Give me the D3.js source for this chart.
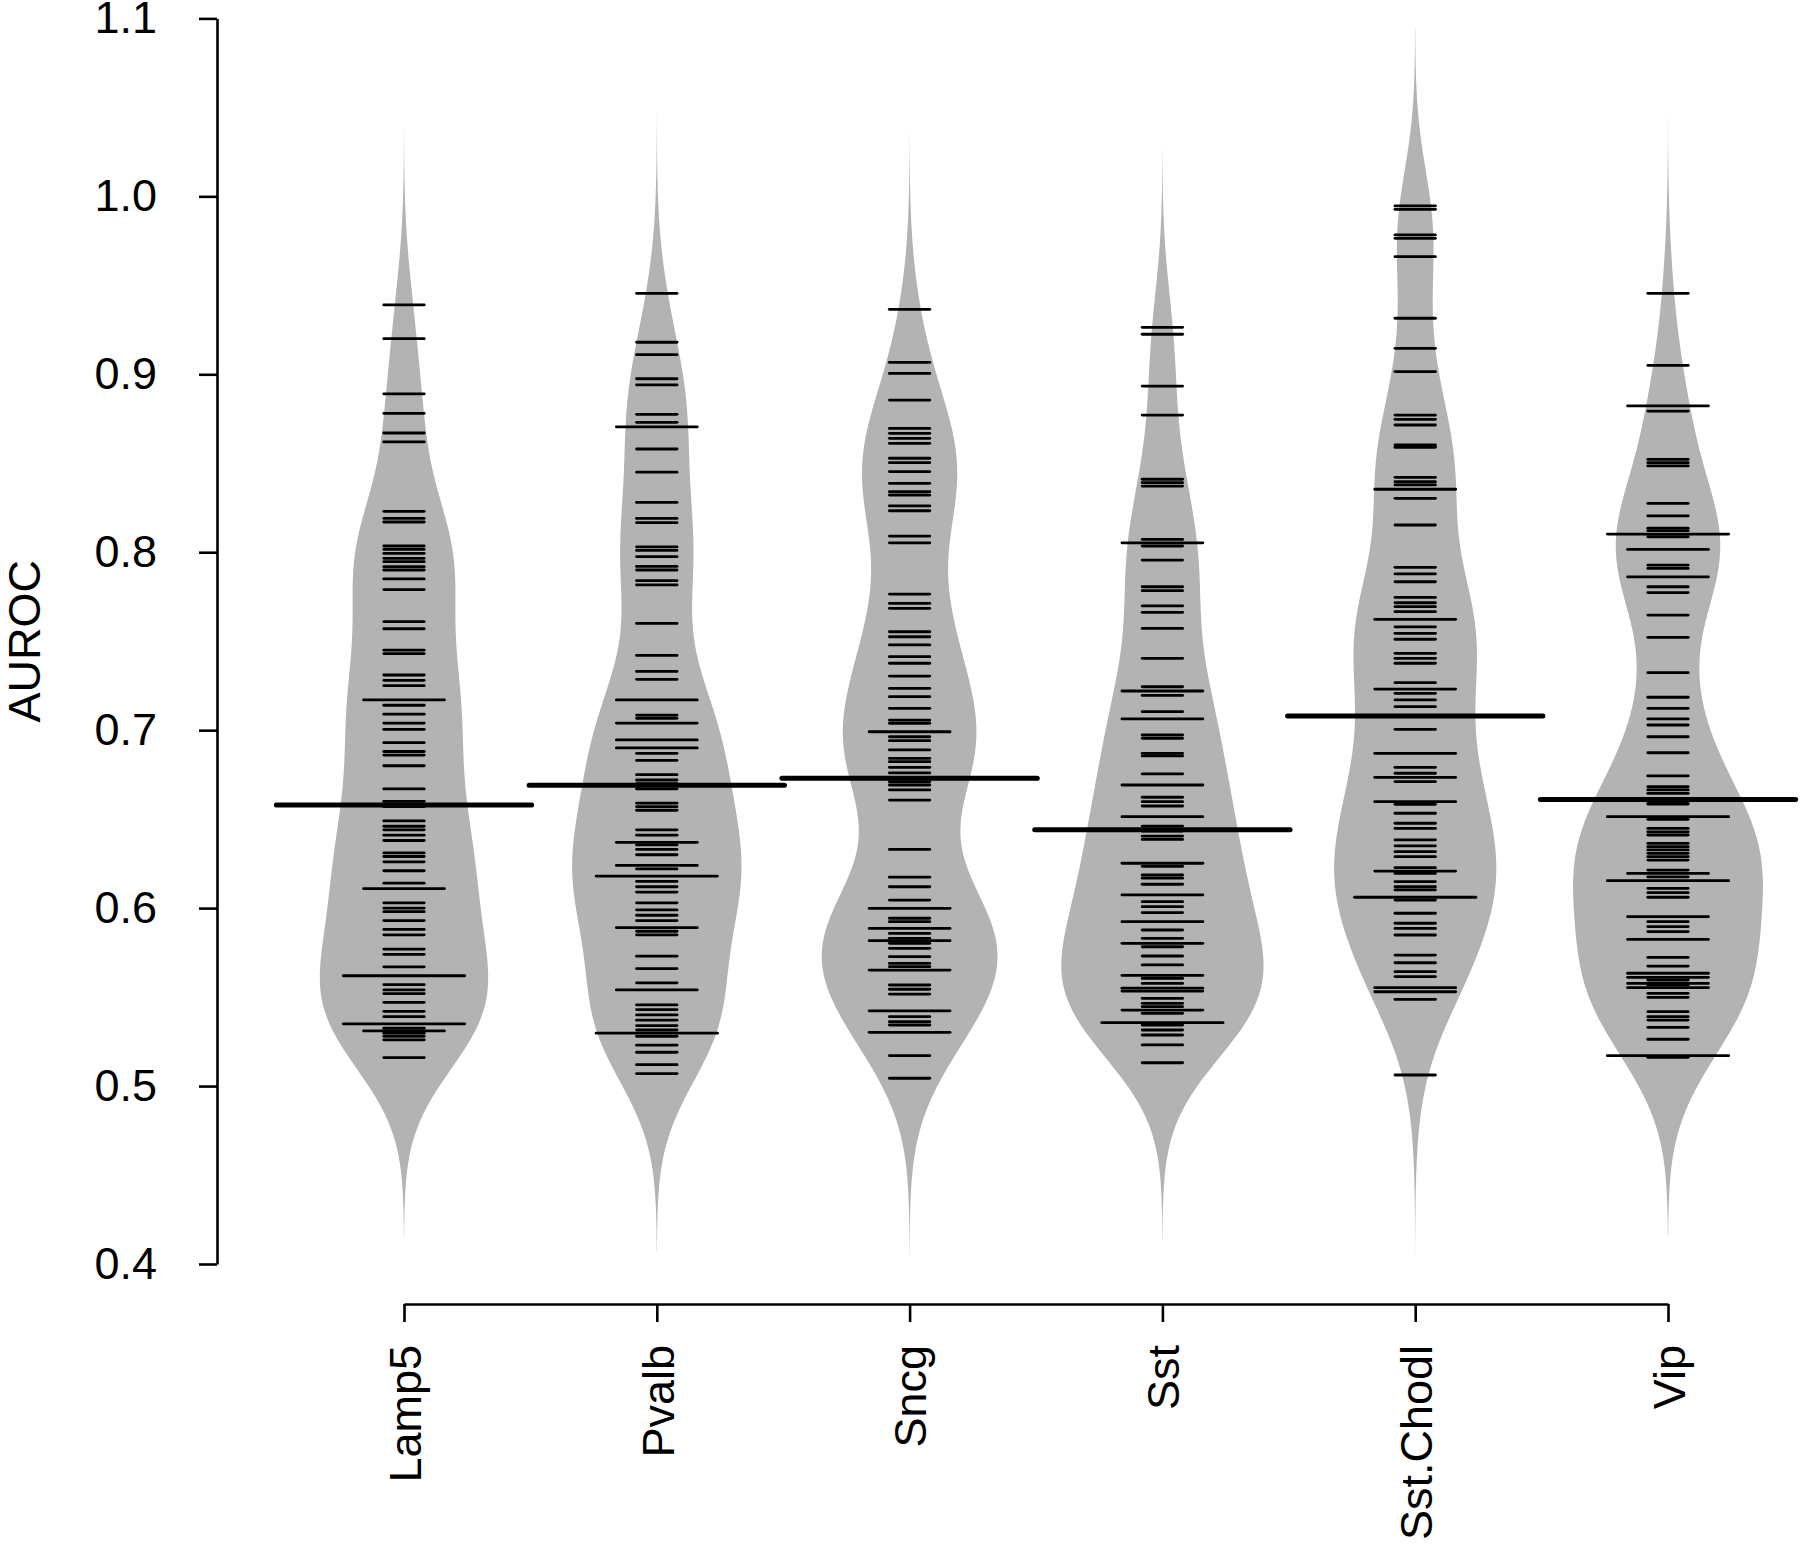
<!DOCTYPE html>
<html>
<head>
<meta charset="utf-8">
<script src="https://cdn.jsdelivr.net/npm/d3@7"></script>
<style>
  html, body { margin: 0; padding: 0; background: #fff; }
  svg { display: block; }
  text { font-family: "Liberation Sans", Arial, sans-serif; }
</style>
</head>
<body>
<svg id="chart" width="1800" height="1567"></svg>
<script>
// ---------- data ----------
const categories = ["Lamp5", "Pvalb", "Sncg", "Sst", "Sst.Chodl", "Vip"];

const lamp5 = [0.939, 0.920, 0.889, 0.878, 0.867, 0.862, 0.823, 0.819, 0.817, 0.8035, 0.8016, 0.7994, 0.7966, 0.7947, 0.7919, 0.790, 0.785, 0.779, 0.761, 0.757, 0.745, 0.743, 0.731, 0.728, 0.725, 0.717, 0.717, 0.714, 0.709, 0.704, 0.7005, 0.693, 0.688, 0.686, 0.680, 0.667, 0.660, 0.657, 0.649, 0.646, 0.644, 0.641, 0.638, 0.631, 0.629, 0.626, 0.621, 0.614, 0.611, 0.611, 0.603, 0.600, 0.598, 0.593, 0.588, 0.585, 0.577, 0.574, 0.567, 0.562, 0.562, 0.562, 0.557, 0.554, 0.552, 0.547, 0.542, 0.539, 0.535, 0.535, 0.535, 0.5325, 0.531, 0.531, 0.5297, 0.528, 0.526, 0.516];

const pvalb = [0.9455, 0.918, 0.911, 0.8975, 0.894, 0.8775, 0.873, 0.8705, 0.8705, 0.858, 0.845, 0.828, 0.819, 0.8166, 0.803, 0.801, 0.7975, 0.792, 0.790, 0.784, 0.7816, 0.760, 0.742, 0.733, 0.7286, 0.717, 0.717, 0.7085, 0.7067, 0.704, 0.704, 0.6945, 0.6945, 0.690, 0.690, 0.687, 0.683, 0.675, 0.672, 0.670, 0.667, 0.659, 0.657, 0.655, 0.644, 0.641, 0.637, 0.637, 0.6355, 0.633, 0.630, 0.624, 0.624, 0.622, 0.618, 0.618, 0.618, 0.615, 0.612, 0.609, 0.603, 0.599, 0.596, 0.593, 0.589, 0.589, 0.587, 0.585, 0.573, 0.566, 0.558, 0.554, 0.554, 0.5456, 0.543, 0.540, 0.537, 0.534, 0.5315, 0.5297, 0.5297, 0.5297, 0.528, 0.523, 0.519, 0.512, 0.507];

const sncg = [0.9365, 0.9067, 0.9005, 0.8855, 0.8696, 0.8668, 0.864, 0.8612, 0.8528, 0.8503, 0.8453, 0.8387, 0.834, 0.8321, 0.826, 0.8233, 0.8091, 0.8053, 0.7765, 0.7713, 0.7685, 0.7553, 0.7525, 0.7479, 0.7413, 0.7376, 0.7304, 0.7235, 0.7188, 0.7123, 0.7057, 0.7039, 0.6991, 0.6991, 0.6963, 0.6941, 0.6889, 0.6842, 0.6823, 0.6791, 0.676, 0.671, 0.6692, 0.6664, 0.6607, 0.633, 0.6174, 0.612, 0.6045, 0.5999, 0.5999, 0.5943, 0.5924, 0.5886, 0.5886, 0.5858, 0.583, 0.5817, 0.5817, 0.5802, 0.5774, 0.5727, 0.5689, 0.5671, 0.5652, 0.5652, 0.5568, 0.5544, 0.5517, 0.5423, 0.5423, 0.539, 0.5362, 0.5343, 0.5302, 0.5302, 0.5171, 0.5044];

const sst = [0.9264, 0.9225, 0.8934, 0.8771, 0.841, 0.8391, 0.8372, 0.8072, 0.8053, 0.8053, 0.8035, 0.7956, 0.7806, 0.7784, 0.7698, 0.7662, 0.7572, 0.7404, 0.7244, 0.722, 0.722, 0.7195, 0.7104, 0.7063, 0.7063, 0.6973, 0.6954, 0.687, 0.6855, 0.6754, 0.6692, 0.6692, 0.6623, 0.6598, 0.6574, 0.6514, 0.6514, 0.6461, 0.6433, 0.6405, 0.6386, 0.6252, 0.6252, 0.6235, 0.6186, 0.6168, 0.6134, 0.6074, 0.6074, 0.6036, 0.6008, 0.5975, 0.5924, 0.5924, 0.5877, 0.583, 0.5802, 0.5802, 0.5783, 0.5731, 0.5681, 0.5622, 0.5622, 0.5605, 0.5577, 0.555, 0.555, 0.5534, 0.5534, 0.5493, 0.5465, 0.5446, 0.5427, 0.5427, 0.5409, 0.5356, 0.5356, 0.5356, 0.5343, 0.5315, 0.5287, 0.5231, 0.5131];

const sstChodl = [0.9946, 0.9927, 0.9783, 0.9764, 0.9661, 0.9315, 0.9146, 0.9015, 0.8771, 0.8747, 0.8715, 0.8603, 0.859, 0.8421, 0.8396, 0.8378, 0.8354, 0.8354, 0.8303, 0.8153, 0.7915, 0.7878, 0.7834, 0.7746, 0.7716, 0.7694, 0.7666, 0.7623, 0.7623, 0.7581, 0.7544, 0.7511, 0.7432, 0.7404, 0.7376, 0.7267, 0.7231, 0.7231, 0.7207, 0.717, 0.7132, 0.7005, 0.687, 0.687, 0.6791, 0.6758, 0.6735, 0.6735, 0.6711, 0.6598, 0.6598, 0.6583, 0.6533, 0.6477, 0.6448, 0.6383, 0.635, 0.6317, 0.6289, 0.6227, 0.6208, 0.6208, 0.6195, 0.6149, 0.612, 0.6102, 0.6061, 0.6061, 0.6061, 0.6045, 0.5971, 0.5915, 0.5886, 0.5849, 0.5736, 0.5693, 0.5643, 0.5615, 0.5553, 0.5553, 0.553, 0.553, 0.5487, 0.5062];

const vip = [0.9455, 0.905, 0.8823, 0.8823, 0.8793, 0.8522, 0.8503, 0.8485, 0.8275, 0.8204, 0.8135, 0.8121, 0.8102, 0.8102, 0.8102, 0.8087, 0.8016, 0.8016, 0.7928, 0.7909, 0.7862, 0.7862, 0.7806, 0.7773, 0.7647, 0.7522, 0.7323, 0.7185, 0.7123, 0.7063, 0.7029, 0.6963, 0.6873, 0.6743, 0.6682, 0.6664, 0.6645, 0.6598, 0.6585, 0.6514, 0.6514, 0.6514, 0.6499, 0.6448, 0.6429, 0.6411, 0.6364, 0.6345, 0.6327, 0.6308, 0.6289, 0.627, 0.6214, 0.6195, 0.6195, 0.6176, 0.6154, 0.6154, 0.6154, 0.6111, 0.6087, 0.6061, 0.5952, 0.5952, 0.5924, 0.5896, 0.5868, 0.5824, 0.5824, 0.5723, 0.5674, 0.5634, 0.5634, 0.5611, 0.5611, 0.5596, 0.5577, 0.5577, 0.5568, 0.5553, 0.5553, 0.5521, 0.5498, 0.5418, 0.539, 0.5371, 0.533, 0.5263, 0.5171, 0.5171, 0.5171, 0.5162];

const seriesValues = [lamp5, pvalb, sncg, sst, sstChodl, vip];
const groupMeans = [0.658, 0.669, 0.673, 0.644, 0.708, 0.661];
const yTicks = [0.4, 0.5, 0.6, 0.7, 0.8, 0.9, 1.0, 1.1];
const yLabel = "AUROC";

// ---------- layout ----------
const svg = d3.select("#chart");
const y = d3.scaleLinear().domain([0.4, 1.1]).range([1264, 18.4]);
const x = d3.scalePoint().domain(categories).range([404, 1668]);
const step = x.step();

const bw = 0.0335;          // common kernel bandwidth
const cut = 3;
const maxHalf = 0.4 * step; // beans' max half-width
const perPoint = 0.16 * step; // short line length per observation
const fontSize = 45;

// kernel density per group
function kde(vals) {
  const lo = d3.min(vals) - cut * bw, hi = d3.max(vals) + cut * bw;
  const n = 400, pts = [];
  for (let i = 0; i <= n; i++) {
    const t = lo + (hi - lo) * i / n;
    let s = 0;
    for (const v of vals) { const z = (t - v) / bw; s += Math.exp(-0.5 * z * z); }
    pts.push([t, s / (vals.length * bw * Math.sqrt(2 * Math.PI))]);
  }
  return pts;
}
const dens = seriesValues.map(kde);
const dMax = d3.max(dens, d => d3.max(d, p => p[1]));
const w = d3.scaleLinear().domain([0, dMax]).range([0, maxHalf]);

// beans
const gBeans = svg.append("g");
categories.forEach((c, i) => {
  const cx = x(c);
  const area = d3.area()
    .curve(d3.curveLinear)
    .y(p => y(p[0]))
    .x0(p => cx - w(p[1]))
    .x1(p => cx + w(p[1]));
  gBeans.append("path")
    .datum(dens[i])
    .attr("d", area)
    .attr("fill", "#b3b3b3")
    .attr("stroke", "none");
});

// short data lines (length grows with count of identical values)
const gLines = svg.append("g");
categories.forEach((c, i) => {
  const cx = x(c);
  const counts = d3.rollups(seriesValues[i], v => v.length, v => v.toFixed(4));
  counts.sort((a, b) => a[1] - b[1]);
  counts.forEach(([val, cnt]) => {
    const half = perPoint * cnt / 2;
    gLines.append("line")
      .attr("x1", cx - half).attr("x2", cx + half)
      .attr("y1", y(+val)).attr("y2", y(+val))
      .attr("stroke", "#000").attr("stroke-width", 2.8)
      .attr("stroke-linecap", "round");
  });
});

// mean lines
const gMeans = svg.append("g");
categories.forEach((c, i) => {
  const cx = x(c);
  gMeans.append("line")
    .attr("x1", cx - 0.505 * step).attr("x2", cx + 0.505 * step)
    .attr("y1", y(groupMeans[i])).attr("y2", y(groupMeans[i]))
    .attr("stroke", "#000").attr("stroke-width", 5)
    .attr("stroke-linecap", "round");
});

// y axis
const gy = svg.append("g")
  .attr("transform", "translate(217,0)")
  .call(d3.axisLeft(y).tickValues(yTicks).tickFormat(d3.format(".1f"))
        .tickSize(18).tickSizeOuter(0).tickPadding(42));
gy.selectAll("path, line").attr("stroke", "#000").attr("stroke-width", 2.6);
gy.selectAll("text").attr("font-size", fontSize).attr("fill", "#000")
  .attr("font-family", "'Liberation Sans', Arial, sans-serif");

// x axis
const gx = svg.append("g")
  .attr("transform", "translate(0,1304)")
  .call(d3.axisBottom(x).tickSize(18).tickSizeOuter(0));
gx.selectAll("path, line").attr("stroke", "#000").attr("stroke-width", 2.6);
gx.selectAll("text")
  .attr("font-size", fontSize).attr("fill", "#000")
  .attr("font-family", "'Liberation Sans', Arial, sans-serif")
  .attr("transform", "rotate(-90)")
  .attr("x", -41).attr("y", 0).attr("dy", "0.36em")
  .attr("text-anchor", "end");

// y label
svg.append("text")
  .attr("transform", `translate(40,${(y(0.4) + y(1.1)) / 2}) rotate(-90)`)
  .attr("text-anchor", "middle")
  .attr("font-size", fontSize)
  .attr("fill", "#000")
  .text(yLabel);
</script>
</body>
</html>
